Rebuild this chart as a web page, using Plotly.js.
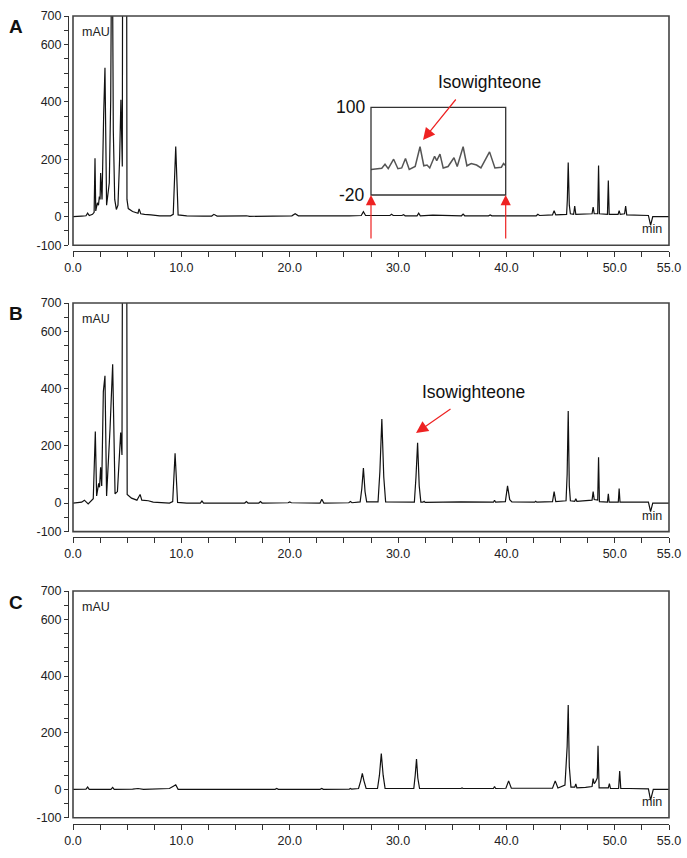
<!DOCTYPE html>
<html>
<head>
<meta charset="utf-8">
<script src="https://cdn.plot.ly/plotly-3.0.1.min.js"></script>
<style>
html,body{margin:0;padding:0;background:#fff;}
#chart{width:687px;height:858px;}
</style>
</head>
<body>
<div id="chart"></div>
<script>
// ---------- DATA: [retention time (min), absorbance (mAU)] ----------
var chromA = [[0,0],[0.8,2],[1.2,3],[1.35,12],[1.5,4],[1.8,8],[1.95,15],[2.03,204],[2.1,20],[2.25,48],[2.35,40],[2.43,70],[2.5,60],[2.55,152],[2.68,60],[2.83,356],[2.95,519],[3.1,40],[3.35,118],[3.48,408],[3.6,1200],[3.72,300],[3.85,60],[4.0,25],[4.15,40],[4.3,200],[4.42,408],[4.55,175],[4.6,1500],[4.93,1500],[4.98,60],[5.1,28],[5.5,18],[6.0,12],[6.1,27],[6.25,10],[6.6,8],[7.2,6],[8.0,3],[9.0,3],[9.25,8],[9.48,245],[9.7,6],[10.5,3],[12.0,2],[12.8,2],[13.0,8],[13.3,2],[16.0,3],[16.3,1],[20.2,3],[20.5,10],[20.8,3],[23.0,3],[25.5,3],[26.6,4],[26.8,17],[27.0,4],[29.25,4],[29.4,8],[29.55,4],[30.35,4],[30.5,7],[30.65,3],[31.75,3],[31.9,12],[32.05,3],[33.2,5],[35.85,3],[36.0,9],[36.15,3],[38.35,3],[38.5,6],[38.65,3],[40.0,3],[42.75,3],[42.9,8],[43.05,4],[44.25,6],[44.4,21],[44.55,6],[45.55,8],[45.62,60],[45.7,189],[45.8,40],[45.9,10],[46.2,8],[46.3,37],[46.4,8],[47.9,10],[48.0,33],[48.1,10],[48.42,10],[48.5,178],[48.58,10],[49.32,8],[49.4,126],[49.48,8],[50.3,8],[50.4,21],[50.5,8],[50.9,10],[51.0,37],[51.1,6],[53.1,4],[53.3,-30],[53.5,0],[55,0]];

var chromB = [[0,0],[0.8,3],[1.05,10],[1.4,-3],[1.87,15],[2.06,250],[2.18,25],[2.37,69],[2.45,55],[2.55,125],[2.65,60],[2.8,390],[2.95,445],[3.1,25],[3.42,262],[3.66,486],[3.88,32],[4.1,40],[4.4,247],[4.52,168],[4.6,1500],[4.93,1500],[5.0,30],[5.4,17],[5.9,10],[6.19,30],[6.35,10],[6.95,8],[7.4,3],[8.9,0],[9.2,5],[9.42,174],[9.65,2],[10.5,0],[11.75,0],[11.9,7],[12.05,0],[15.85,0],[16.0,5],[16.15,0],[17.15,0],[17.3,5],[17.45,0],[19.85,1],[20.0,4],[20.15,1],[22.8,0],[22.96,13],[23.15,0],[25.45,1],[25.6,5],[25.75,1],[26.5,4],[26.65,50],[26.8,122],[26.95,40],[27.1,4],[28.15,4],[28.32,110],[28.5,294],[28.68,90],[28.85,4],[31.5,3],[31.65,90],[31.8,211],[31.95,60],[32.1,3],[32.3,3],[32.4,6],[32.5,2],[35.8,4],[38.8,3],[38.9,10],[39.0,3],[39.9,5],[40.1,60],[40.3,12],[40.5,4],[42.6,3],[42.7,6],[42.8,3],[44.25,5],[44.4,40],[44.55,5],[45.5,8],[45.6,100],[45.7,322],[45.8,60],[45.9,8],[46.3,6],[46.4,15],[46.5,6],[47.9,10],[48.0,40],[48.1,12],[48.42,10],[48.5,160],[48.58,5],[49.32,3],[49.4,32],[49.48,3],[50.32,3],[50.4,51],[50.48,3],[53.1,3],[53.3,-30],[53.5,0],[55,0]];

var chromC = [[0,0],[1.2,1],[1.35,8],[1.5,0],[3.5,0],[3.66,7],[3.8,0],[5.5,1],[6.0,3],[6.5,0],[8.9,3],[9.3,12],[9.48,16],[9.7,0],[12.0,0],[18.65,0],[18.8,3],[18.95,0],[22.8,0],[22.96,3],[23.1,0],[25.5,1],[25.6,3],[25.7,1],[26.35,3],[26.55,30],[26.7,56],[26.85,30],[27.05,3],[28.1,3],[28.28,50],[28.45,126],[28.62,50],[28.8,3],[31.45,3],[31.58,50],[31.7,107],[31.82,40],[31.98,3],[35.8,3],[35.9,5],[36.0,3],[38.8,3],[38.9,10],[39.0,3],[39.95,4],[40.2,30],[40.45,4],[44.25,4],[44.5,30],[44.75,5],[45.4,15],[45.6,150],[45.7,298],[45.8,80],[45.95,8],[46.3,8],[46.4,19],[46.5,5],[47.3,7],[47.9,10],[48.0,38],[48.1,20],[48.2,25],[48.38,40],[48.45,154],[48.55,5],[49.4,5],[49.5,20],[49.6,3],[50.35,3],[50.45,65],[50.55,3],[51.3,3],[53.1,2],[53.3,-38],[53.55,0],[55,0]];

// inset of chromatogram A (27.5 - 40 min, magnified)
var chromInset = [[27.5,15],[28.5,16.5],[28.8,22],[29.1,16],[29.6,29],[30.0,16],[30.35,17],[30.7,30],[31.05,15],[31.6,19],[32.05,46],[32.4,20],[32.7,21],[32.95,17],[33.4,33],[33.6,27],[33.9,36],[34.2,17],[34.65,19],[35.2,31],[35.5,19],[36.05,46],[36.4,20],[36.8,23],[37.3,21],[37.7,17],[38.5,39],[39.0,17],[39.6,18],[39.8,23],[40.0,20]];

// axis ticks
var xTickVals = [0,10,20,30,40,50,55];
var xTickText = ["0.0","10.0","20.0","30.0","40.0","50.0","55.0"];
var yTickVals = [700,600,400,200,0,-100];
var yTickText = ["700","600","400","200","0","-100"];
var panelLetters = ["A","B","C"];
var compoundLabel = "Isowighteone";
var insetLabels = ["100","-20"];

// ---------- LAYOUT ----------
(function(){
var W = 687, H = 858;
function fx(p){return p/W;}
function fy(p){return 1-p/H;}
function col(a,k){return a.map(function(r){return r[k];});}
var FONT = "Liberation Sans, Arial, sans-serif";
var AX = '#333';

// panel geometry (pixels): [top, bottom, xAxisLine]
var panels = [[16,245.3,250.5],[303,531.6,537],[591,817.7,824]];

var layout = {
  width: W, height: H,
  margin: {l:0,r:0,t:0,b:0},
  paper_bgcolor: '#fff', plot_bgcolor: 'rgba(0,0,0,0)',
  showlegend: false,
  font: {family: FONT, color: '#222', size: 12},
  shapes: [], annotations: []
};

var traces = [];
var chroms = [chromA, chromB, chromC];

for (var i=0;i<3;i++){
  var n = i+1, xs = (n===1?'':String(n)), pTop=panels[i][0], pBot=panels[i][1], axl=panels[i][2];
  layout['xaxis'+xs] = {
    domain:[fx(73),fx(669)], range:[0,55], anchor:'free', position: fy(axl),
    showline:true, linecolor:AX, linewidth:1, ticks:'outside', ticklen:5, tickcolor:AX, tickwidth:1,
    tickmode:'array', tickvals:xTickVals, ticktext:xTickText,
    minor:{dtick:2.5, tick0:0, ticks:'outside', ticklen:5, tickcolor:AX, tickwidth:1, showgrid:false},
    showgrid:false, zeroline:false, fixedrange:true,
    tickfont:{family:FONT, size:12.5, color:'#222'}
  };
  layout['yaxis'+xs] = {
    domain:[fy(pBot),fy(pTop)], range:[-100,700], anchor:'free', position: fx(68),
    showline:true, linecolor:AX, linewidth:1, ticks:'outside', ticklen:4, tickcolor:AX, tickwidth:1,
    tickmode:'array', tickvals:yTickVals, ticktext:yTickText,
    minor:{dtick:50, tick0:0, ticks:'outside', ticklen:4, tickcolor:AX, tickwidth:1, showgrid:false},
    showgrid:false, zeroline:false, fixedrange:true,
    tickfont:{family:FONT, size:12.5, color:'#222'}
  };
  traces.push({
    x: col(chroms[i],0), y: col(chroms[i],1), type:'scatter', mode:'lines',
    xaxis:'x'+xs, yaxis:'y'+xs,
    line:{color:'#111', width:1.2, simplify:false}, hoverinfo:'skip'
  });
  layout.shapes.push({type:'rect', xref:'x'+xs+' domain', yref:'y'+xs+' domain', x0:0,x1:1,y0:0,y1:1,
    line:{color:'#444', width:1.6}});
  layout.annotations.push({text:'<b>'+panelLetters[i]+'</b>', xref:'paper', yref:'paper', x:fx(16), y:fy(pTop+11),
    showarrow:false, xanchor:'center', yanchor:'middle', font:{family:FONT, size:19, color:'#111'}});
  layout.annotations.push({text:'mAU', xref:'paper', yref:'paper', x:fx(80), y:fy(pTop+16),
    showarrow:false, xanchor:'left', yanchor:'middle', font:{family:FONT, size:12.5, color:'#222'}});
  layout.annotations.push({text:'min', xref:'paper', yref:'paper', x:fx(652), y:fy(pBot-16),
    showarrow:false, xanchor:'center', yanchor:'middle', font:{family:FONT, size:12.5, color:'#222'}});
}

// inset subplot
layout.xaxis4 = {domain:[fx(371),fx(505.7)], range:[27.5,40], anchor:'y4', visible:false, fixedrange:true};
layout.yaxis4 = {domain:[fy(195),fy(107.3)], range:[-20,100], anchor:'x4', visible:false, fixedrange:true};
traces.push({x:col(chromInset,0), y:col(chromInset,1), type:'scatter', mode:'lines', xaxis:'x4', yaxis:'y4',
  line:{color:'#555', width:1.5}, hoverinfo:'skip'});
layout.shapes.push({type:'rect', xref:'x4 domain', yref:'y4 domain', x0:0,x1:1,y0:0,y1:1,
  line:{color:'#333', width:1.3}});
layout.annotations.push({text:insetLabels[0], xref:'paper', yref:'paper', x:fx(367), y:fy(107),
  showarrow:false, xanchor:'right', yanchor:'middle', font:{family:FONT, size:17.5, color:'#111'}});
layout.annotations.push({text:insetLabels[1], xref:'paper', yref:'paper', x:fx(367), y:fy(195),
  showarrow:false, xanchor:'right', yanchor:'middle', font:{family:FONT, size:17.5, color:'#111'}});

// compound labels
layout.annotations.push({text:compoundLabel, xref:'paper', yref:'paper', x:fx(489), y:fy(82),
  showarrow:false, xanchor:'center', yanchor:'middle', font:{family:FONT, size:17.5, color:'#111'}});
layout.annotations.push({text:compoundLabel, xref:'paper', yref:'paper', x:fx(473), y:fy(392),
  showarrow:false, xanchor:'center', yanchor:'middle', font:{family:FONT, size:17.5, color:'#111'}});

// red arrows
var RED = '#ee2222';
function arrow(tx,ty,ax,ay,size){
  layout.annotations.push({text:'', xref:'paper', yref:'paper', x:fx(tx), y:fy(ty),
    axref:'pixel', ayref:'pixel', ax:ax, ay:ay, showarrow:true, arrowhead:2, arrowsize:size,
    arrowwidth:1.2, arrowcolor:RED, standoff:0});
}
arrow(423,140,34,-42,2.0);
arrow(416,433,36,-25,2.0);
arrow(371,195,0,45,1.7);
arrow(505.7,195,0,45,1.7);

Plotly.newPlot('chart', traces, layout, {staticPlot:true, displayModeBar:false});
})();
</script>
</body>
</html>
